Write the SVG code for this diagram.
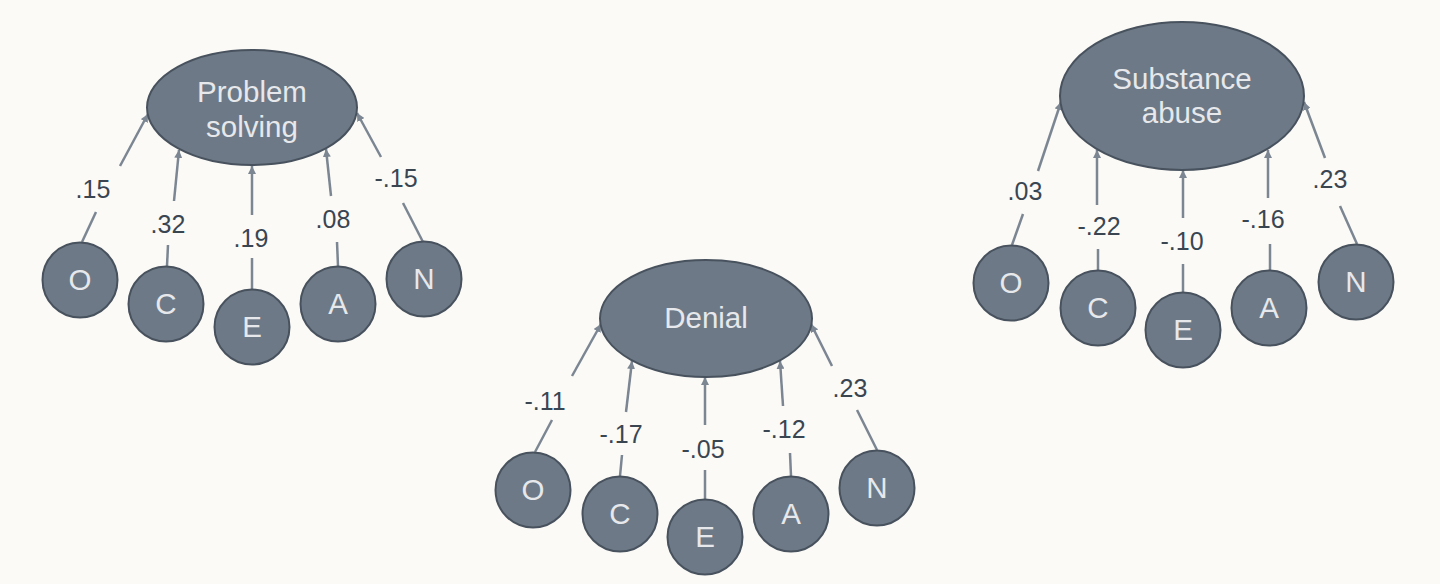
<svg xmlns="http://www.w3.org/2000/svg" width="1440" height="584" viewBox="0 0 1440 584">
<style>
.bg{fill:#fbfaf6}
.lat{fill:#6d7986;stroke:#48525e;stroke-width:2}
.obs{fill:#6d7986;stroke:#48525e;stroke-width:2}
.nt{font-family:"Liberation Sans",Arial,sans-serif;font-size:29.5px;fill:#e6e8eb;text-anchor:middle}
.lb{font-family:"Liberation Sans",Arial,sans-serif;font-size:25px;fill:#3a4552;text-anchor:middle}
.ln{stroke:#7b8692;stroke-width:2.5;fill:none}
.ar{stroke:#7b8692;stroke-width:2.5;fill:none;marker-end:url(#ah)}
</style>
<defs>
<marker id="ah" markerUnits="userSpaceOnUse" markerWidth="9" markerHeight="8" refX="8" refY="4" orient="auto">
<path d="M0,0 L8,4 L0,8 z" fill="#7b8692"/>
</marker>
</defs>
<rect class="bg" x="0" y="0" width="1440" height="584"/>

<g id="connectors">
<line class="ln" x1="82" y1="242" x2="96" y2="212"/>
<line class="ar" x1="120" y1="166" x2="148" y2="114"/>
<line class="ln" x1="167" y1="266" x2="168" y2="245"/>
<line class="ar" x1="174" y1="201" x2="179" y2="150"/>
<line class="ln" x1="252" y1="289" x2="252" y2="258"/>
<line class="ar" x1="252" y1="215" x2="252" y2="166"/>
<line class="ln" x1="338" y1="266" x2="337" y2="242"/>
<line class="ar" x1="331" y1="196" x2="326" y2="149"/>
<line class="ln" x1="423" y1="242" x2="403" y2="203"/>
<line class="ar" x1="381" y1="157" x2="357" y2="113"/>
<line class="ln" x1="535" y1="452" x2="552" y2="420"/>
<line class="ar" x1="572" y1="376" x2="601" y2="324"/>
<line class="ln" x1="620" y1="476" x2="622" y2="455"/>
<line class="ar" x1="626" y1="412" x2="632" y2="361"/>
<line class="ln" x1="705" y1="499" x2="705" y2="470"/>
<line class="ar" x1="705" y1="425" x2="705" y2="377"/>
<line class="ln" x1="791" y1="476" x2="790" y2="453"/>
<line class="ar" x1="783" y1="406" x2="780" y2="361"/>
<line class="ln" x1="877" y1="450" x2="857" y2="410"/>
<line class="ar" x1="832" y1="366" x2="811" y2="324"/>
<line class="ln" x1="1012" y1="245" x2="1023" y2="214"/>
<line class="ar" x1="1038" y1="171" x2="1061" y2="102"/>
<line class="ln" x1="1098" y1="270" x2="1098" y2="249"/>
<line class="ar" x1="1097" y1="205" x2="1097" y2="150"/>
<line class="ln" x1="1183" y1="292" x2="1183" y2="264"/>
<line class="ar" x1="1183" y1="218" x2="1183" y2="170"/>
<line class="ln" x1="1270" y1="270" x2="1270" y2="244"/>
<line class="ar" x1="1268" y1="198" x2="1268" y2="150"/>
<line class="ln" x1="1357" y1="244" x2="1340" y2="206"/>
<line class="ar" x1="1325" y1="158" x2="1304" y2="102"/>
</g>

<g id="labels">
<text class="lb" x="93" y="198">.15</text>
<text class="lb" x="168" y="233">.32</text>
<text class="lb" x="251" y="247">.19</text>
<text class="lb" x="333" y="228">.08</text>
<text class="lb" x="396" y="187">-.15</text>
<text class="lb" x="545" y="410">-.11</text>
<text class="lb" x="621" y="443">-.17</text>
<text class="lb" x="703" y="458">-.05</text>
<text class="lb" x="784" y="438">-.12</text>
<text class="lb" x="850" y="397">.23</text>
<text class="lb" x="1025" y="200">.03</text>
<text class="lb" x="1099" y="235">-.22</text>
<text class="lb" x="1182" y="250">-.10</text>
<text class="lb" x="1263" y="228">-.16</text>
<text class="lb" x="1330" y="188">.23</text>
</g>

<g id="problem-solving">
<ellipse class="lat" cx="252" cy="107.5" rx="105" ry="57.5"/>
<text class="nt" x="252" y="102">Problem</text>
<text class="nt" x="252" y="137">solving</text>
</g>
<g id="ps-O"><circle class="obs" cx="80" cy="280" r="37.5"/><text class="nt" x="80" y="290">O</text></g>
<g id="ps-C"><circle class="obs" cx="166" cy="304" r="37.5"/><text class="nt" x="166" y="314">C</text></g>
<g id="ps-E"><circle class="obs" cx="252" cy="327" r="37.5"/><text class="nt" x="252" y="337">E</text></g>
<g id="ps-A"><circle class="obs" cx="338" cy="304" r="37.5"/><text class="nt" x="338" y="314">A</text></g>
<g id="ps-N"><circle class="obs" cx="424" cy="279" r="37.5"/><text class="nt" x="424" y="289">N</text></g>

<g id="denial">
<ellipse class="lat" cx="706" cy="318.5" rx="106" ry="58.5"/>
<text class="nt" x="706" y="328">Denial</text>
</g>
<g id="de-O"><circle class="obs" cx="533" cy="490" r="37.5"/><text class="nt" x="533" y="500">O</text></g>
<g id="de-C"><circle class="obs" cx="620" cy="514" r="37.5"/><text class="nt" x="620" y="524">C</text></g>
<g id="de-E"><circle class="obs" cx="705" cy="537" r="37.5"/><text class="nt" x="705" y="547">E</text></g>
<g id="de-A"><circle class="obs" cx="791" cy="514" r="37.5"/><text class="nt" x="791" y="524">A</text></g>
<g id="de-N"><circle class="obs" cx="877" cy="488" r="37.5"/><text class="nt" x="877" y="498">N</text></g>

<g id="substance-abuse">
<ellipse class="lat" cx="1182" cy="96" rx="122" ry="74"/>
<text class="nt" x="1182" y="89">Substance</text>
<text class="nt" x="1182" y="123">abuse</text>
</g>
<g id="sa-O"><circle class="obs" cx="1011" cy="283" r="37.5"/><text class="nt" x="1011" y="293">O</text></g>
<g id="sa-C"><circle class="obs" cx="1098" cy="308" r="37.5"/><text class="nt" x="1098" y="318">C</text></g>
<g id="sa-E"><circle class="obs" cx="1183" cy="330" r="37.5"/><text class="nt" x="1183" y="340">E</text></g>
<g id="sa-A"><circle class="obs" cx="1269" cy="308" r="37.5"/><text class="nt" x="1269" y="318">A</text></g>
<g id="sa-N"><circle class="obs" cx="1356" cy="282" r="37.5"/><text class="nt" x="1356" y="292">N</text></g>
</svg>
